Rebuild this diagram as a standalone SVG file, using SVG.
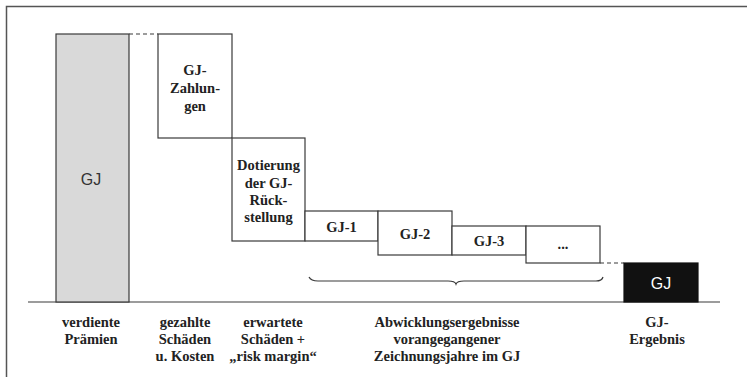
<svg xmlns="http://www.w3.org/2000/svg" width="747" height="377" viewBox="0 0 747 377">
<style>
.box{fill:#fff;stroke:#3a3a3a;stroke-width:1.2}
.t{font-family:"Liberation Serif","Times New Roman",serif;font-weight:bold;font-size:14.5px;fill:#222;text-anchor:middle}
.s{font-family:"Liberation Sans",Arial,sans-serif;font-size:16px;text-anchor:middle}
.ln{fill:none;stroke:#3a3a3a;stroke-width:1.2}
.dash{fill:none;stroke:#3a3a3a;stroke-width:1.2;stroke-dasharray:4 3}
</style>
<rect width="747" height="377" fill="#fff"/>
<path d="M6.5 377 V6.5 H747" fill="none" stroke="#555" stroke-width="1.5"/>
<g id="connectors">
<line class="dash" x1="129" y1="34" x2="158" y2="34"/>
<line class="dash" x1="600" y1="263" x2="624" y2="263"/>
<line class="ln" x1="28" y1="302" x2="720" y2="302"/>
<path class="ln" d="M309 277 Q311 281 318 281 H448 Q455 281 456 284 Q457 281 464 281 H596 Q602 281 603 277" stroke="#666"/>
</g>
<g id="praemien">
<rect x="56" y="34" width="73" height="268" fill="#d9d9d9" stroke="#3a3a3a" stroke-width="1.2"/>
<text class="s" x="91" y="185" fill="#333">GJ</text>
</g>
<g id="zahlungen">
<rect class="box" x="158" y="34" width="74" height="104"/>
<text class="t" x="195" y="75">GJ-</text>
<text class="t" x="195" y="93">Zahlun-</text>
<text class="t" x="195" y="111">gen</text>
</g>
<g id="dotierung">
<rect class="box" x="232" y="138" width="73" height="103"/>
<text class="t" x="268.5" y="170">Dotierung</text>
<text class="t" x="268.5" y="188">der GJ-</text>
<text class="t" x="268.5" y="205">Rück-</text>
<text class="t" x="268.5" y="222">stellung</text>
</g>
<g id="gj1">
<rect class="box" x="305" y="211" width="73" height="30"/>
<text class="t" x="341.5" y="232">GJ-1</text>
</g>
<g id="gj2">
<rect class="box" x="378" y="211" width="74" height="44"/>
<text class="t" x="415" y="239">GJ-2</text>
</g>
<g id="gj3">
<rect class="box" x="452" y="226" width="74" height="29"/>
<text class="t" x="489" y="246">GJ-3</text>
</g>
<g id="dots">
<rect class="box" x="526" y="226" width="74" height="37"/>
<text class="t" x="563" y="249">...</text>
</g>
<g id="ergebnis">
<rect x="624" y="263" width="74" height="39" fill="#111" stroke="#111" stroke-width="1.2"/>
<text class="s" x="661" y="289" fill="#fff">GJ</text>
</g>
<g id="labels">
<text class="t" x="91" y="327">verdiente</text>
<text class="t" x="91" y="344">Prämien</text>
<text class="t" x="185" y="327">gezahlte</text>
<text class="t" x="185" y="344">Schäden</text>
<text class="t" x="185" y="361">u. Kosten</text>
<text class="t" x="273" y="327">erwartete</text>
<text class="t" x="273" y="344">Schäden +</text>
<text class="t" x="273" y="361">„risk margin“</text>
<text class="t" x="447" y="327">Abwicklungsergebnisse</text>
<text class="t" x="447" y="344">vorangegangener</text>
<text class="t" x="447" y="361">Zeichnungsjahre im GJ</text>
<text class="t" x="657" y="327">GJ-</text>
<text class="t" x="657" y="344">Ergebnis</text>
</g>
</svg>
